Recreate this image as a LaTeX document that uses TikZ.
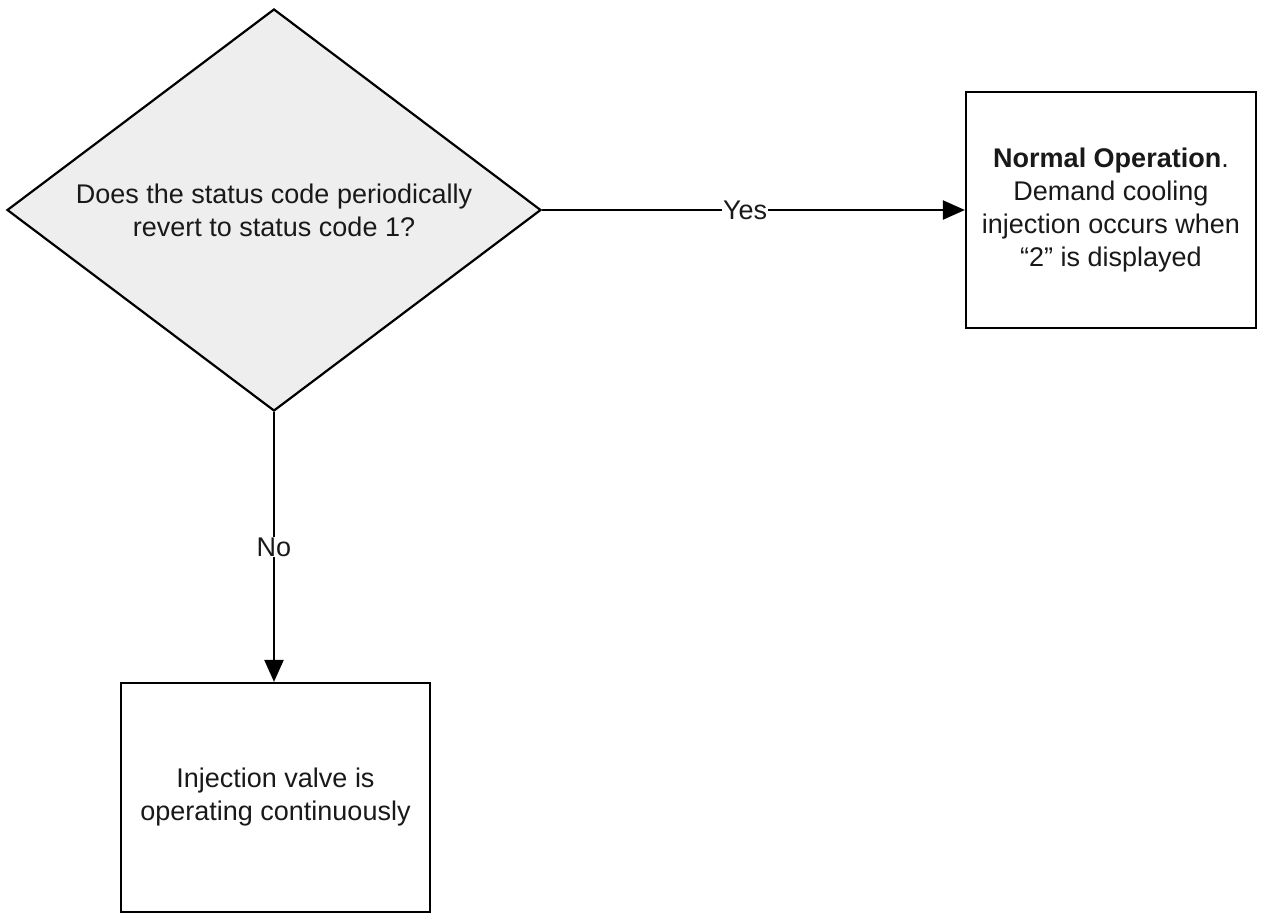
\documentclass[tikz,border=0pt]{standalone}
\usepackage{fontspec}
\setmainfont{Liberation Sans}
\usetikzlibrary{shapes.geometric,arrows.meta}
\definecolor{decfill}{RGB}{238,238,238}
\definecolor{txt}{RGB}{25,25,25}
\begin{document}
\begin{tikzpicture}[x=1pt,y=-1pt,
  every node/.style={font=\fontsize{27}{33}\selectfont,text=txt},
  decision/.style={draw=black,line width=2.2pt,fill=decfill,shape=diamond,inner sep=0pt,
     minimum width=534pt,minimum height=402pt,shape aspect=1.33,align=center},
  procbox/.style={draw=black,line width=2.2pt,fill=white,inner sep=0pt,align=center},
  conn/.style={line width=2.2pt,-{Triangle[length=22pt,width=19pt]}},
  lbl/.style={fill=white,inner sep=1pt}]
\useasboundingbox (0,0) rectangle (1261,914);
\node[decision] (d) at (274,210) {Does the status code periodically\\revert to status code 1?};
\node[procbox,minimum width=290pt,minimum height=236pt] (yes) at (1111,210)
  {\textbf{Normal Operation}.\\Demand cooling\\injection occurs when\\“2” is displayed};
\node[procbox,minimum width=309pt,minimum height=229pt] (no) at (275.5,797.5)
  {Injection valve is\\operating continuously};
\draw[conn] (d.east) -- node[lbl,pos=0.48]{Yes} (yes.west);
\draw[conn] (d.south) -- node[lbl]{No} (no.north -| d.south);
\end{tikzpicture}
\end{document}
